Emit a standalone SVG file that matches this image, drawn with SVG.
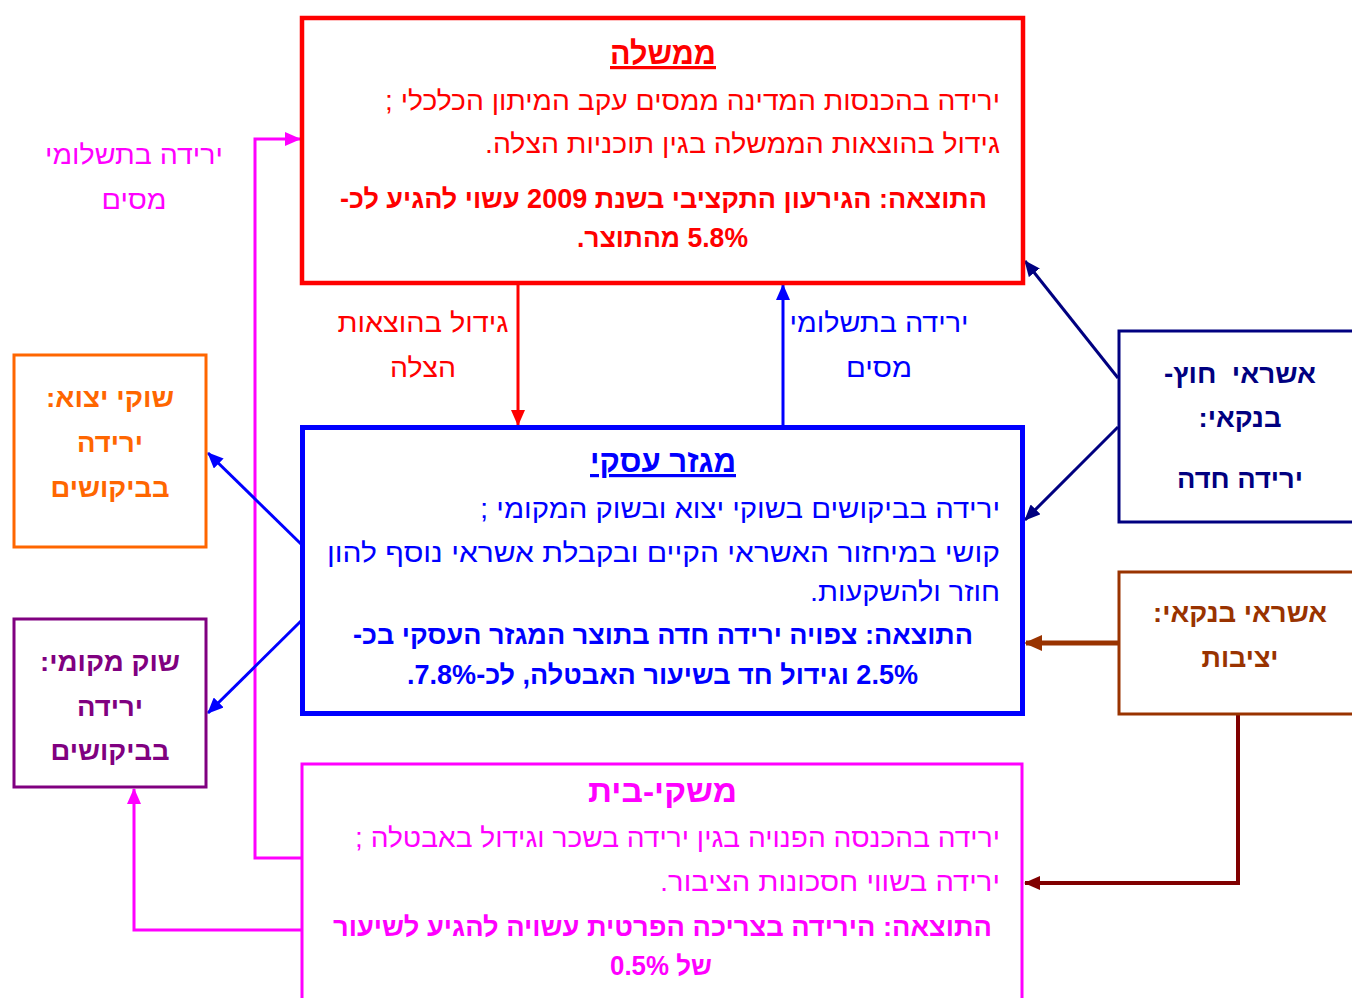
<svg xmlns="http://www.w3.org/2000/svg" width="1352" height="998" viewBox="0 0 1352 998">
<style>
text{font-family:"Liberation Sans","DejaVu Sans",sans-serif;direction:rtl;text-anchor:middle}
.t{font-size:32px;font-weight:bold}
.u{text-decoration:underline}
.n{font-size:27px}
.b{font-size:27px;font-weight:bold}
.box{fill:#fff}
</style>
<defs>
<marker id="aRed" markerUnits="userSpaceOnUse" markerWidth="16" markerHeight="14" refX="15" refY="7" orient="auto"><path d="M0,0L16,7L0,14z" fill="#ff0000"/></marker>
<marker id="aBlue" markerUnits="userSpaceOnUse" markerWidth="16" markerHeight="14" refX="15" refY="7" orient="auto"><path d="M0,0L16,7L0,14z" fill="#0000ff"/></marker>
<marker id="aNavy" markerUnits="userSpaceOnUse" markerWidth="16" markerHeight="14" refX="15" refY="7" orient="auto"><path d="M0,0L16,7L0,14z" fill="#000080"/></marker>
<marker id="aBrown" markerUnits="userSpaceOnUse" markerWidth="18" markerHeight="16" refX="16" refY="8" orient="auto"><path d="M0,0L18,8L0,16z" fill="#993300"/></marker>
<marker id="aMaroon" markerUnits="userSpaceOnUse" markerWidth="16" markerHeight="14" refX="15" refY="7" orient="auto"><path d="M0,0L16,7L0,14z" fill="#800000"/></marker>
<marker id="aMag" markerUnits="userSpaceOnUse" markerWidth="16" markerHeight="14" refX="15" refY="7" orient="auto"><path d="M0,0L16,7L0,14z" fill="#ff00ff"/></marker>
</defs>

<g id="connectors" fill="none">
<path d="M302,858H255V139H300" stroke="#ff00ff" stroke-width="3" marker-end="url(#aMag)"/>
<path d="M302,930H134V789" stroke="#ff00ff" stroke-width="3" marker-end="url(#aMag)"/>
<path d="M518,284V425" stroke="#ff0000" stroke-width="3" marker-end="url(#aRed)"/>
<path d="M783,426V285" stroke="#0000ff" stroke-width="3" marker-end="url(#aBlue)"/>
<path d="M1118,378L1025,261" stroke="#000080" stroke-width="3" marker-end="url(#aNavy)"/>
<path d="M1118,427L1025,520" stroke="#000080" stroke-width="3" marker-end="url(#aNavy)"/>
<path d="M1118,643H1026" stroke="#993300" stroke-width="5" marker-end="url(#aBrown)"/>
<path d="M1238,715V883H1025" stroke="#800000" stroke-width="4" marker-end="url(#aMaroon)"/>
<path d="M301,544L208,453" stroke="#0000ff" stroke-width="3" marker-end="url(#aBlue)"/>
<path d="M301,621L208,713" stroke="#0000ff" stroke-width="3" marker-end="url(#aBlue)"/>
</g>

<g id="label-mag">
<text class="n" x="134" y="164" fill="#ff00ff" textLength="178" lengthAdjust="spacingAndGlyphs">ירידה בתשלומי</text>
<text class="n" x="134" y="209" fill="#ff00ff" textLength="65" lengthAdjust="spacingAndGlyphs">מסים</text>
</g>
<g id="label-red">
<text class="n" x="423" y="332" fill="#ff0000" textLength="171" lengthAdjust="spacingAndGlyphs">גידול בהוצאות</text>
<text class="n" x="423" y="377" fill="#ff0000" textLength="66" lengthAdjust="spacingAndGlyphs">הצלה</text>
</g>
<g id="label-blue">
<text class="n" x="879" y="332" fill="#0000ff" textLength="179" lengthAdjust="spacingAndGlyphs">ירידה בתשלומי</text>
<text class="n" x="879" y="377" fill="#0000ff" textLength="66" lengthAdjust="spacingAndGlyphs">מסים</text>
</g>

<g id="government">
<rect class="box" x="302" y="18" width="721" height="265" stroke="#ff0000" stroke-width="4.5"/>
<text class="t u" x="663" y="64" fill="#ff0000" textLength="106" lengthAdjust="spacingAndGlyphs">ממשלה</text>
<text class="n" x="692.5" y="110" fill="#ff0000" textLength="615" lengthAdjust="spacingAndGlyphs">ירידה בהכנסות המדינה ממסים עקב המיתון הכלכלי ;</text>
<text class="n" x="742.5" y="153" fill="#ff0000" textLength="515" lengthAdjust="spacingAndGlyphs">גידול בהוצאות הממשלה בגין תוכניות הצלה.</text>
<text class="b" x="663.5" y="208" fill="#ff0000" textLength="647" lengthAdjust="spacingAndGlyphs">התוצאה: הגירעון התקציבי בשנת 2009 עשוי להגיע לכ-</text>
<text class="b" x="662.5" y="247" fill="#ff0000" textLength="171" lengthAdjust="spacingAndGlyphs">5.8% מהתוצר.</text>
</g>

<g id="business">
<rect class="box" x="302.5" y="427.5" width="720" height="286" stroke="#0000ff" stroke-width="5"/>
<text class="t u" x="663" y="472" fill="#0000ff" textLength="146" lengthAdjust="spacingAndGlyphs">מגזר עסקי</text>
<text class="n" x="740" y="518" fill="#0000ff" textLength="520" lengthAdjust="spacingAndGlyphs">ירידה בביקושים בשוקי יצוא ובשוק המקומי ;</text>
<text class="n" x="663.5" y="562" fill="#0000ff" textLength="673" lengthAdjust="spacingAndGlyphs">קושי במיחזור האשראי הקיים ובקבלת אשראי נוסף להון</text>
<text class="n" x="905" y="601" fill="#0000ff" textLength="190" lengthAdjust="spacingAndGlyphs">חוזר ולהשקעות.</text>
<text class="b" x="663" y="644" fill="#0000ff" textLength="620" lengthAdjust="spacingAndGlyphs">התוצאה: צפויה ירידה חדה בתוצר המגזר העסקי בכ-</text>
<text class="b" x="662.5" y="684" fill="#0000ff" textLength="511" lengthAdjust="spacingAndGlyphs">2.5% וגידול חד בשיעור האבטלה, לכ-7.8%.</text>
</g>

<g id="households">
<rect class="box" x="302" y="764" width="720" height="250" stroke="#ff00ff" stroke-width="3"/>
<text class="t" x="662.5" y="802" fill="#ff00ff" textLength="149" lengthAdjust="spacingAndGlyphs">משקי-בית</text>
<text class="n" x="677.5" y="847" fill="#ff00ff" textLength="645" lengthAdjust="spacingAndGlyphs">ירידה בהכנסה הפנויה בגין ירידה בשכר וגידול באבטלה ;</text>
<text class="n" x="830" y="891" fill="#ff00ff" textLength="340" lengthAdjust="spacingAndGlyphs">ירידה בשווי חסכונות הציבור.</text>
<text class="b" x="662.5" y="936" fill="#ff00ff" textLength="659" lengthAdjust="spacingAndGlyphs">התוצאה: הירידה בצריכה הפרטית עשויה להגיע לשיעור</text>
<text class="b" x="661" y="975" fill="#ff00ff" textLength="102" lengthAdjust="spacingAndGlyphs">של 0.5%</text>
</g>

<g id="export">
<rect class="box" x="14" y="355" width="192" height="192" stroke="#ff6600" stroke-width="3"/>
<text class="b" x="110" y="407" fill="#ff6600" textLength="128" lengthAdjust="spacingAndGlyphs">שוקי יצוא:</text>
<text class="b" x="110" y="452" fill="#ff6600" textLength="66" lengthAdjust="spacingAndGlyphs">ירידה</text>
<text class="b" x="110" y="497" fill="#ff6600" textLength="119" lengthAdjust="spacingAndGlyphs">בביקושים</text>
</g>

<g id="local">
<rect class="box" x="14" y="619" width="192" height="168" stroke="#800080" stroke-width="3"/>
<text class="b" x="110" y="671" fill="#800080" textLength="140" lengthAdjust="spacingAndGlyphs">שוק מקומי:</text>
<text class="b" x="110" y="716" fill="#800080" textLength="66" lengthAdjust="spacingAndGlyphs">ירידה</text>
<text class="b" x="110" y="760" fill="#800080" textLength="119" lengthAdjust="spacingAndGlyphs">בביקושים</text>
</g>

<g id="foreign-credit">
<rect class="box" x="1119" y="331" width="260" height="191" stroke="#000080" stroke-width="3"/>
<text class="b" x="1240" y="383" fill="#000080" xml:space="preserve" textLength="152" lengthAdjust="spacingAndGlyphs">אשראי  חוץ-</text>
<text class="b" x="1240" y="427" fill="#000080" textLength="83" lengthAdjust="spacingAndGlyphs">בנקאי:</text>
<text class="b" x="1240" y="488" fill="#000080" textLength="126" lengthAdjust="spacingAndGlyphs">ירידה חדה</text>
</g>

<g id="bank-credit">
<rect class="box" x="1119" y="572" width="260" height="142" stroke="#993300" stroke-width="3"/>
<text class="b" x="1240" y="622" fill="#993300" textLength="174" lengthAdjust="spacingAndGlyphs">אשראי בנקאי:</text>
<text class="b" x="1240" y="667" fill="#993300" textLength="77" lengthAdjust="spacingAndGlyphs">יציבות</text>
</g>
</svg>
